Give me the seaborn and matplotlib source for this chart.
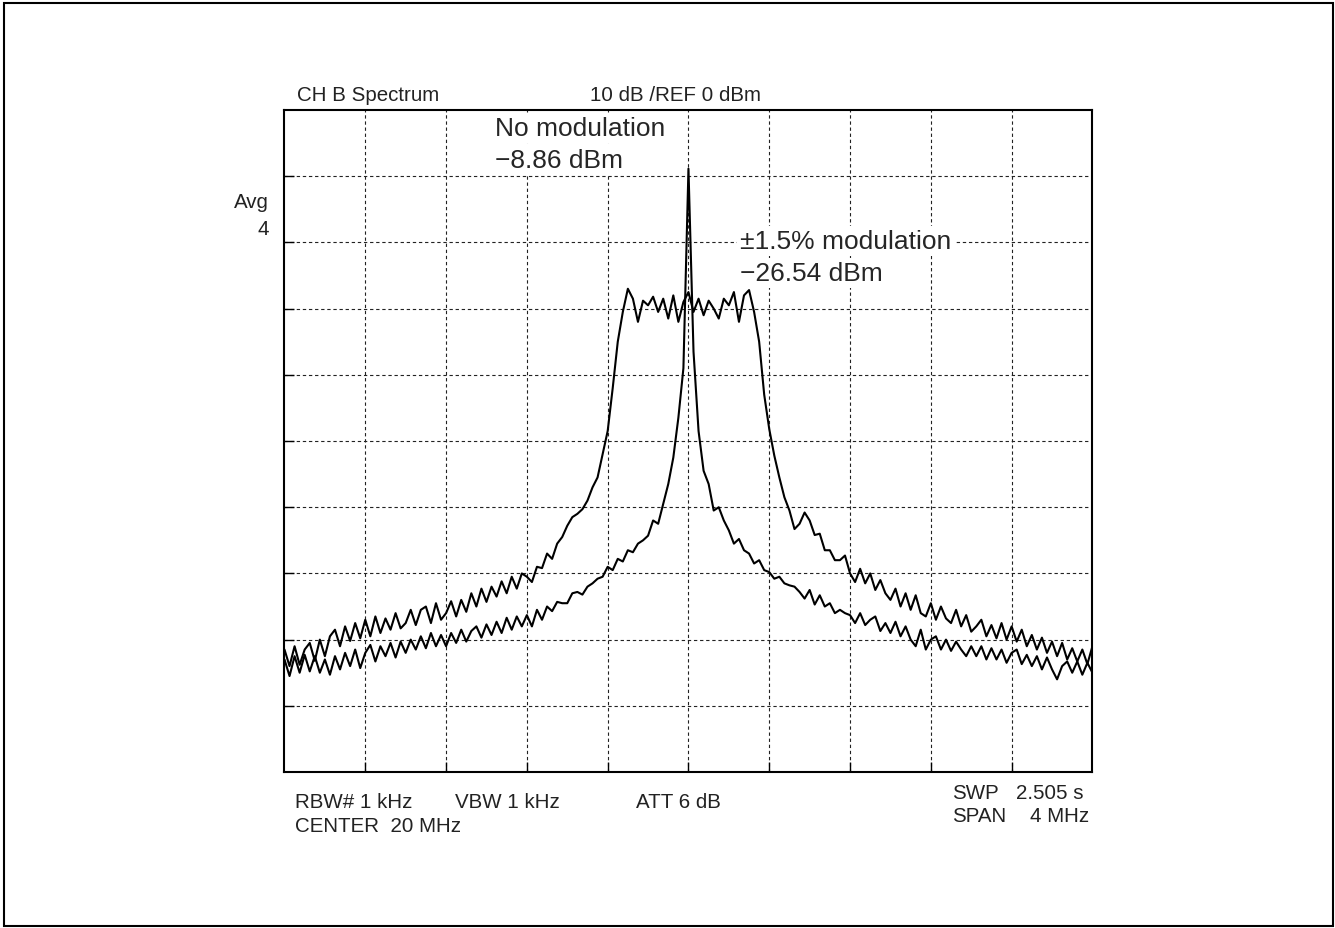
"""
Spectre CH B : porteuse non modulée vs modulation ±1.5 %
"""

import matplotlib
matplotlib.use("Agg")
import pandas as pd
import matplotlib.pyplot as plt
from matplotlib.patches import Rectangle
import seaborn as sns

# ============================================================
# DONNÉES (lues sur la capture de l'analyseur)
# ============================================================

# Points de balayage, en MHz (CENTER 20 MHz, SPAN 4 MHz)
SWEEP_MHZ = [
    18.000, 18.025, 18.050, 18.075, 18.100, 18.125, 18.150, 18.175,
    18.200, 18.225, 18.250, 18.275, 18.300, 18.325, 18.350, 18.375,
    18.400, 18.425, 18.450, 18.475, 18.500, 18.525, 18.550, 18.575,
    18.600, 18.625, 18.650, 18.675, 18.700, 18.725, 18.750, 18.775,
    18.800, 18.825, 18.850, 18.875, 18.900, 18.925, 18.950, 18.975,
    19.000, 19.025, 19.050, 19.075, 19.100, 19.125, 19.150, 19.175,
    19.200, 19.225, 19.250, 19.275, 19.300, 19.325, 19.350, 19.375,
    19.400, 19.425, 19.450, 19.475, 19.500, 19.525, 19.550, 19.575,
    19.600, 19.625, 19.650, 19.675, 19.700, 19.725, 19.750, 19.775,
    19.800, 19.825, 19.850, 19.875, 19.900, 19.925, 19.950, 19.975,
    20.000, 20.025, 20.050, 20.075, 20.100, 20.125, 20.150, 20.175,
    20.200, 20.225, 20.250, 20.275, 20.300, 20.325, 20.350, 20.375,
    20.400, 20.425, 20.450, 20.475, 20.500, 20.525, 20.550, 20.575,
    20.600, 20.625, 20.650, 20.675, 20.700, 20.725, 20.750, 20.775,
    20.800, 20.825, 20.850, 20.875, 20.900, 20.925, 20.950, 20.975,
    21.000, 21.025, 21.050, 21.075, 21.100, 21.125, 21.150, 21.175,
    21.200, 21.225, 21.250, 21.275, 21.300, 21.325, 21.350, 21.375,
    21.400, 21.425, 21.450, 21.475, 21.500, 21.525, 21.550, 21.575,
    21.600, 21.625, 21.650, 21.675, 21.700, 21.725, 21.750, 21.775,
    21.800, 21.825, 21.850, 21.875, 21.900, 21.925, 21.950, 21.975,
    22.000,
]

# Trace sans modulation (dBm)
NOMOD_DBM = [
    -83.0, -85.5, -82.5, -85.0, -82.3, -84.8, -82.5, -85.0,
    -83.0, -85.3, -82.5, -84.5, -82.0, -84.0, -81.5, -84.3,
    -82.0, -80.8, -83.3, -81.0, -82.5, -80.5, -82.7, -80.3,
    -82.0, -80.0, -81.5, -79.5, -81.3, -79.0, -81.0, -79.3,
    -81.0, -79.0, -80.5, -78.5, -80.3, -78.7, -78.0, -79.7,
    -77.7, -79.3, -77.3, -79.0, -76.7, -78.5, -76.5, -78.0,
    -76.3, -78.0, -75.5, -77.0, -75.0, -75.7, -74.3, -74.5,
    -74.5, -73.0, -72.8, -73.2, -72.0, -71.5, -70.8, -70.5,
    -69.0, -69.5, -67.8, -68.2, -66.5, -66.8, -65.5, -65.0,
    -64.3, -62.0, -62.5, -59.5, -56.5, -52.5, -46.5, -39.0,
    -8.86, -36.5, -48.5, -54.5, -56.5, -60.5, -60.0, -62.0,
    -63.5, -65.5, -64.8, -66.5, -67.0, -68.5, -68.0, -69.5,
    -69.8, -70.8, -70.5, -71.5, -71.8, -72.0, -72.8, -73.8,
    -72.5, -74.7, -73.3, -75.0, -74.5, -76.0, -75.5, -76.0,
    -76.3, -77.5, -76.0, -77.8, -77.0, -76.5, -78.7, -77.5,
    -79.0, -77.3, -79.5, -78.0, -80.0, -81.0, -78.5, -81.5,
    -80.0, -79.5, -81.5, -80.0, -81.7, -80.3, -81.5, -82.5,
    -81.0, -82.5, -81.0, -83.0, -81.3, -83.0, -81.5, -83.5,
    -82.0, -81.5, -83.7, -82.3, -84.0, -82.5, -84.5, -82.7,
    -84.5, -86.0, -84.0, -83.3, -85.0, -83.3, -85.3, -83.5,
    -85.0,
]

# Trace avec modulation ±1.5 % (dBm)
MOD_DBM = [
    -81.5, -84.0, -81.0, -83.8, -81.5, -80.5, -83.2, -80.0,
    -82.5, -79.5, -78.5, -81.0, -78.0, -80.2, -77.5, -79.8,
    -77.0, -79.5, -76.5, -79.0, -76.8, -78.5, -76.0, -78.3,
    -77.5, -75.5, -77.8, -75.5, -75.0, -77.5, -74.5, -77.0,
    -76.0, -74.2, -76.5, -74.0, -75.8, -73.0, -75.0, -72.3,
    -74.3, -72.0, -73.5, -71.2, -73.0, -70.5, -72.3, -70.0,
    -70.5, -71.3, -69.0, -69.2, -67.0, -67.8, -65.5, -64.5,
    -62.8, -61.5, -61.0, -60.3, -59.0, -57.0, -55.5, -52.0,
    -48.5, -42.0, -35.0, -30.5, -27.0, -28.5, -32.0, -28.8,
    -29.5, -28.2, -30.5, -28.5, -31.5, -28.0, -32.0, -29.0,
    -27.5, -30.5, -28.5, -31.0, -28.8, -30.0, -31.5, -28.5,
    -29.5, -27.5, -32.0, -28.0, -27.2, -30.5, -35.0, -43.0,
    -48.2, -52.2, -55.5, -58.5, -60.5, -63.3, -62.5, -60.8,
    -62.0, -64.2, -64.0, -66.5, -66.5, -68.0, -68.0, -67.3,
    -70.0, -71.3, -69.3, -71.5, -70.0, -72.5, -71.0, -73.0,
    -74.0, -72.3, -75.0, -73.0, -75.5, -73.3, -76.0, -76.5,
    -74.5, -77.0, -75.0, -76.8, -77.5, -75.5, -78.0, -76.3,
    -78.8, -78.0, -77.0, -79.5, -77.8, -79.8, -77.5, -80.0,
    -78.0, -80.3, -78.5, -81.0, -79.3, -81.5, -79.7, -82.0,
    -80.3, -82.5, -80.5, -83.0, -81.3, -83.3, -81.5, -83.7,
    -81.0,
]

# Graduations de la grille (10 divisions x 10 divisions)
GRID_MHZ = [18.4, 18.8, 19.2, 19.6, 20.0, 20.4, 20.8, 21.2, 21.6]
GRID_DBM = [-90, -80, -70, -60, -50, -40, -30, -20, -10]

# ============================================================
# STYLE
# ============================================================

sns.set_style("white")
plt.rcParams["font.family"] = ["Liberation Sans", "DejaVu Sans"]

PETIT = 14.8   # textes de l'analyseur
GRAND = 19     # annotations des traces
BOITE = {"facecolor": "white", "edgecolor": "none", "pad": 2}

# ============================================================
# FIGURE
# ============================================================

fig = plt.figure(figsize=(13.35, 9.29), dpi=100)
ax = fig.add_axes([0.2131, 0.1679, 0.6052, 0.7126])

df_nomod = pd.DataFrame({"freq": SWEEP_MHZ, "dbm": NOMOD_DBM})
df_mod = pd.DataFrame({"freq": SWEEP_MHZ, "dbm": MOD_DBM})

sns.lineplot(data=df_nomod, x="freq", y="dbm", ax=ax, color="black",
             linewidth=1.5, estimator=None)
sns.lineplot(data=df_mod, x="freq", y="dbm", ax=ax, color="black",
             linewidth=1.5, estimator=None)

ax.set_xlim(18, 22)
ax.set_ylim(-100, 0)
ax.set_xticks(GRID_MHZ)
ax.set_yticks(GRID_DBM)
ax.set_xlabel("")
ax.set_ylabel("")
ax.grid(True, color="#222222", linewidth=0.8, linestyle=(0, (3, 2.5)))
ax.tick_params(direction="in", length=7, width=1, color="black",
               bottom=True, left=True, top=False, right=False,
               labelbottom=False, labelleft=False)
for spine in ax.spines.values():
    spine.set_visible(True)
    spine.set_color("black")
    spine.set_linewidth(1.5)

# --- En-tête ---
ax.text(0.0155, 1.0147, "CH B Spectrum", transform=ax.transAxes,
        fontsize=PETIT, va="baseline", ha="left", color="#222222")
ax.text(0.3781, 1.0147, "10 dB /REF 0 dBm", transform=ax.transAxes,
        fontsize=PETIT, va="baseline", ha="left", color="#222222")
ax.text(-0.0192, 0.8535, "Avg", transform=ax.transAxes,
        fontsize=PETIT, va="baseline", ha="right", color="#222222")
ax.text(-0.0192, 0.8127, "4", transform=ax.transAxes,
        fontsize=PETIT, va="baseline", ha="right", color="#222222")

# --- Annotations des traces ---
ax.text(0.2605, 0.9622, "No modulation", transform=ax.transAxes,
        fontsize=GRAND, va="baseline", ha="left", bbox=BOITE)
ax.text(0.2605, 0.9139, "\u22128.86 dBm", transform=ax.transAxes,
        fontsize=GRAND, va="baseline", ha="left", bbox=BOITE)
ax.text(0.5637, 0.7915, "\u00b11.5% modulation", transform=ax.transAxes,
        fontsize=GRAND, va="baseline", ha="left", bbox=BOITE)
ax.text(0.5637, 0.7432, "\u221226.54 dBm", transform=ax.transAxes,
        fontsize=GRAND, va="baseline", ha="left", bbox=BOITE)

# --- Pied : réglages de l'analyseur ---
pied = [
    (0.0130, -0.0529, "RBW# 1 kHz"),
    (0.2110, -0.0529, "VBW 1 kHz"),
    (0.4356, -0.0529, "ATT 6 dB"),
    (0.0130, -0.0887, "CENTER  20 MHz"),
    (0.8258, -0.0397, "SWP"),
    (0.9052, -0.0397, "2.505 s"),
    (0.8258, -0.0736, "SPAN"),
    (0.9226, -0.0736, "4 MHz"),
]
for x, y, txt in pied:
    ax.text(x, y, txt, transform=ax.transAxes, fontsize=PETIT,
            va="baseline", ha="left", color="#222222")

# Cadre extérieur
fig.patches.append(Rectangle((0.003, 0.0022), 0.9955, 0.9935,
                             transform=fig.transFigure, fill=False,
                             edgecolor="black", linewidth=1.5))

fig.savefig("out.png", dpi=100, facecolor="white")
plt.close(fig)
